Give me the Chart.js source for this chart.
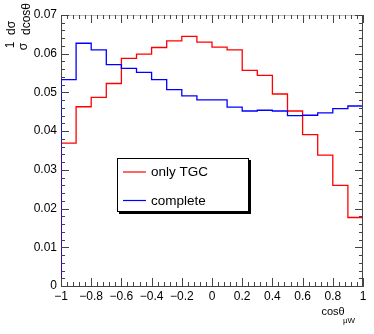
<!DOCTYPE html>
<html>
<head>
<meta charset="utf-8">
<script src="https://cdn.jsdelivr.net/npm/chart.js@4.4.1/dist/chart.umd.min.js"></script>
<style>
  html, body { margin: 0; padding: 0; background: #fff; }
  #wrap { width: 374px; height: 334px; }
</style>
</head>
<body>
<div id="wrap"><canvas id="grafica" width="374" height="334"></canvas></div>
<script>
// bordes inferiores de los bins (ancho 0.1)
const binLow = [-1.0, -0.9, -0.8, -0.7, -0.6, -0.5, -0.4, -0.3, -0.2, -0.1,
                 0.0,  0.1,  0.2,  0.3,  0.4,  0.5,  0.6,  0.7,  0.8,  0.9];
const binHigh = 1.0;

// valores
const onlyTGC = [0.0369, 0.0463, 0.0487, 0.0523, 0.0588, 0.0599, 0.0616, 0.0633, 0.0645, 0.0630,
                 0.0617, 0.0610, 0.0557, 0.0544, 0.0496, 0.0452, 0.0391, 0.0338, 0.0260, 0.0177];
const complete = [0.0533, 0.0627, 0.0610, 0.0572, 0.0562, 0.0552, 0.0533, 0.0507, 0.0491, 0.0481,
                  0.0481, 0.0462, 0.0452, 0.0454, 0.0452, 0.0440, 0.0441, 0.0447, 0.0458, 0.0465];

const xTicks = [-1, -0.8, -0.6, -0.4, -0.2, 0, 0.2, 0.4, 0.6, 0.8, 1];
const yTicks = [0, 0.01, 0.02, 0.03, 0.04, 0.05, 0.06, 0.07];

const legendLabels = ['only TGC', 'complete'];
const FONT = "'Liberation Sans', Arial, Helvetica, sans-serif";

// pasar el histograma a puntos para linea escalonada
function histPoints(valores) {
    const pts = [{ x: binLow[0], y: 0 }];
    binLow.forEach((x, i) => pts.push({ x: x, y: valores[i] }));
    pts.push({ x: binHigh, y: valores[valores.length - 1] });
    pts.push({ x: binHigh, y: 0 });
    return pts;
}

function fmt(v) {
    const r = Math.round(v * 1000) / 1000;
    if (r === 0) return '0';
    const s = String(Math.abs(r));
    return (r < 0 ? '\u2212' : '') + s;
}

// ticks estilo ROOT, marco y titulos
const marcoPlugin = {
    id: 'marco',
    afterDatasetsDraw(chart) {
        const ctx = chart.ctx;
        const a = chart.chartArea;
        const xs = chart.scales.x, ys = chart.scales.y;
        ctx.save();
        ctx.strokeStyle = '#444';
        ctx.lineWidth = 1;
        ctx.beginPath();
        // marco derecho y superior
        ctx.moveTo(Math.round(a.right) - 0.5, a.top);
        ctx.lineTo(Math.round(a.right) - 0.5, a.bottom);
        ctx.stroke();
        ctx.strokeStyle = '#bbb';
        ctx.beginPath();
        ctx.moveTo(a.left, Math.round(a.top) + 0.5);
        ctx.lineTo(a.right, Math.round(a.top) + 0.5);
        ctx.stroke();

        ctx.strokeStyle = '#444';
        ctx.beginPath();
        for (let i = 0; i <= 50; i++) {
            const v = -1 + i * 0.04;
            const px = Math.round(xs.getPixelForValue(v)) + 0.5;
            const len = (i % 5 === 0) ? 8 : 4;
            ctx.moveTo(px, a.bottom); ctx.lineTo(px, a.bottom - len);
            ctx.moveTo(px, a.top); ctx.lineTo(px, a.top + len);
        }
        for (let i = 0; i <= 35; i++) {
            const v = i * 0.002;
            const py = Math.round(ys.getPixelForValue(v)) + 0.5;
            const len = (i % 5 === 0) ? 8 : 4;
            ctx.moveTo(a.left, py); ctx.lineTo(a.left + len, py);
            ctx.moveTo(a.right, py); ctx.lineTo(a.right - len, py);
        }
        ctx.stroke();
        ctx.restore();
    },
    afterDraw(chart) {
        const ctx = chart.ctx;
        ctx.save();
        ctx.fillStyle = '#000';

        // titulo eje x
        ctx.textBaseline = 'alphabetic';
        ctx.textAlign = 'left';
        ctx.font = '11px ' + FONT;
        ctx.fillText('cos\u03b8', 321.5, 314.5);
        ctx.font = '8px ' + FONT;
        ctx.fillText('\u03bcW', 343, 322.5);

        // titulo eje y (rotado)
        ctx.translate(0, 0);
        ctx.rotate(-Math.PI / 2);
        ctx.font = '12px ' + FONT;
        ctx.textAlign = 'center';
        ctx.fillText('1', -45, 14);
        ctx.fillText('\u03c3', -46.5, 27);
        ctx.textAlign = 'left';
        ctx.fillText('d\u03c3', -35, 15);
        ctx.fillText('dcos\u03b8', -35, 30);
        ctx.restore();

        // leyenda
        const lx = 117, ly = 158, lw = 132, lh = 54;
        ctx.save();
        ctx.fillStyle = '#000';
        ctx.fillRect(lx + 2, ly + 2, lw, lh);
        ctx.fillStyle = '#fff';
        ctx.fillRect(lx, ly, lw, lh);
        ctx.strokeStyle = '#000';
        ctx.lineWidth = 1;
        ctx.strokeRect(lx + 0.5, ly + 0.5, lw - 1, lh - 1);
        const colores = ['#ff0000', '#0000ff'];
        const filas = [172, 200.5];
        ctx.font = '13.5px ' + FONT;
        ctx.textBaseline = 'middle';
        ctx.textAlign = 'left';
        legendLabels.forEach((txt, i) => {
            ctx.strokeStyle = colores[i];
            ctx.lineWidth = 1.2;
            ctx.beginPath();
            ctx.moveTo(123, filas[i]);
            ctx.lineTo(146, filas[i]);
            ctx.stroke();
            ctx.fillStyle = '#000';
            ctx.fillText(txt, 151, filas[i] + 0.5);
        });
        ctx.restore();
    }
};

const ctx1 = document.getElementById('grafica').getContext('2d');
const chart = new Chart(ctx1, {
    type: 'line',
    data: {
        datasets: [
            {
                label: legendLabels[0],
                data: histPoints(onlyTGC),
                borderColor: '#ff0000',
                borderWidth: 1.3,
                stepped: 'before',
                pointRadius: 0,
                fill: false,
                order: 1
            },
            {
                label: legendLabels[1],
                data: histPoints(complete),
                borderColor: '#0000ff',
                borderWidth: 1.3,
                stepped: 'before',
                pointRadius: 0,
                fill: false,
                order: 0
            }
        ]
    },
    options: {
        responsive: false,
        animation: false,
        devicePixelRatio: 1,
        layout: { padding: { top: 15, right: 11, left: 0, bottom: 0 } },
        plugins: { legend: { display: false }, tooltip: { enabled: false } },
        scales: {
            x: {
                type: 'linear',
                min: -1,
                max: 1,
                afterFit: (s) => { s.height = 48; },
                afterBuildTicks: (s) => { s.ticks = xTicks.map(v => ({ value: v })); },
                grid: { display: false, drawTicks: false },
                border: { display: true, color: '#444', width: 1 },
                ticks: {
                    autoSkip: false,
                    maxRotation: 0,
                    padding: 3,
                    color: '#000',
                    font: { family: FONT, size: 12 },
                    callback: (v) => fmt(v)
                }
            },
            y: {
                min: 0,
                max: 0.07,
                afterFit: (s) => { s.width = 61; },
                afterBuildTicks: (s) => { s.ticks = yTicks.map(v => ({ value: v })); },
                grid: { display: false, drawTicks: false },
                border: { display: true, color: '#444', width: 1 },
                ticks: {
                    padding: 4,
                    color: '#000',
                    font: { family: FONT, size: 12 },
                    callback: (v) => fmt(v)
                }
            }
        }
    },
    plugins: [marcoPlugin]
});
</script>
</body>
</html>
